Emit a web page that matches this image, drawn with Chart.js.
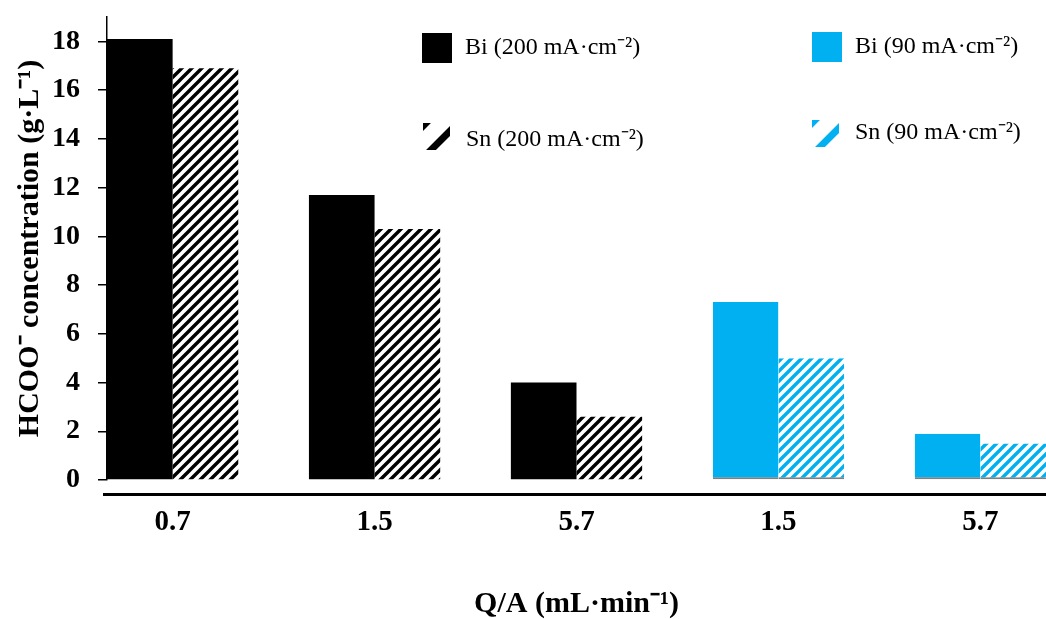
<!DOCTYPE html>
<html>
<head>
<meta charset="utf-8">
<script src="https://cdn.jsdelivr.net/npm/chart.js@4.4.1/dist/chart.umd.min.js"></script>
<style>
  body { margin: 0; background: #fff; }
</style>
</head>
<body>
<canvas id="chart-formate" width="1046" height="619"></canvas>
<script>
// Q/A flow values, in the order the groups appear
const qaLabels = ['0.7', '1.5', '5.7', '1.5', '5.7'];

// HCOO- concentration, g/L
const bi200 = [18.1, 11.7, 4.0, null, null];
const sn200 = [16.9, 10.3, 2.6, null, null];
const bi90 = [null, null, null, 7.3, 1.9];
const sn90 = [null, null, null, 5.0, 1.5];

const seriesNames = ['Bi (200 mA·cm⁻²)', 'Sn (200 mA·cm⁻²)', 'Bi (90 mA·cm⁻²)', 'Sn (90 mA·cm⁻²)'];

const BLUE = '#00B0F0';
const SERIF = "'Liberation Serif', 'Times New Roman', serif";

function hatch(color) {
    const s = 10;
    const c = document.createElement('canvas');
    c.width = c.height = s;
    const g = c.getContext('2d');
    g.fillStyle = '#fff';
    g.fillRect(0, 0, s, s);
    g.strokeStyle = color;
    g.lineWidth = 3.4;
    g.beginPath();
    g.moveTo(-1, s + 1); g.lineTo(s + 1, -1);
    g.moveTo(-s / 2 - 1, s / 2 + 1); g.lineTo(s / 2 + 1, -s / 2 - 1);
    g.moveTo(s / 2 - 1, s * 1.5 + 1); g.lineTo(s * 1.5 + 1, s / 2 - 1);
    g.stroke();
    return g.createPattern(c, 'repeat');
}

const toPoints = (vals) => vals.map((v, i) => ({ x: i, y: v }));

const greyBase = {
    borderColor: '#7f7f7f',
    borderWidth: { top: 0, right: 0, bottom: 2, left: 0 },
    borderSkipped: false
};

const datasets = [
    { label: seriesNames[0], data: toPoints(bi200), backgroundColor: '#000' },
    { label: seriesNames[1], data: toPoints(sn200), backgroundColor: hatch('#000'), swatch: '#000' },
    { label: seriesNames[2], data: toPoints(bi90), backgroundColor: BLUE, ...greyBase },
    { label: seriesNames[3], data: toPoints(sn90), backgroundColor: hatch(BLUE), swatch: BLUE, ...greyBase }
];

// thick rule under the bars + the 2x2 legend inside the plot
const extras = {
    id: 'extras',
    afterDraw(chart) {
        const { ctx, chartArea } = chart;
        ctx.save();
        ctx.fillStyle = '#000';
        ctx.fillRect(chartArea.left - 4, chartArea.bottom + 13, chartArea.right - chartArea.left + 4, 3);

        const spots = [[422, 33, 48], [423, 123, 140], [812, 32, 47], [812, 120, 133]];
        chart.data.datasets.forEach((ds, i) => {
            const [x, y, ty] = spots[i];
            if (ds.swatch) {
                ctx.save();
                ctx.beginPath();
                ctx.rect(x, y, 27, 27);
                ctx.clip();
                ctx.strokeStyle = ds.swatch;
                ctx.lineWidth = 7;
                ctx.beginPath();
                ctx.moveTo(x - 4, y + 7); ctx.lineTo(x + 7, y - 4);
                ctx.moveTo(x + 2, y + 33); ctx.lineTo(x + 33, y + 2);
                ctx.stroke();
                ctx.restore();
            } else {
                ctx.fillStyle = ds.backgroundColor;
                ctx.fillRect(x, y, 30, 30);
            }
            ctx.fillStyle = '#000';
            ctx.font = `24px ${SERIF}`;
            ctx.textBaseline = 'middle';
            ctx.fillText(ds.label, x + 43, ty);
        });
        ctx.restore();
    }
};

new Chart(document.getElementById('chart-formate'), {
    type: 'bar',
    data: { datasets },
    plugins: [extras],
    options: {
        responsive: false,
        animation: false,
        devicePixelRatio: 1,
        layout: { padding: { top: 17, right: 0, bottom: 0, left: 0 } },
        datasets: {
            bar: { categoryPercentage: 0.65, barPercentage: 1, skipNull: true }
        },
        plugins: {
            legend: { display: false },
            tooltip: { enabled: false }
        },
        scales: {
            x: {
                type: 'linear',
                min: -0.325,
                max: 4.325,
                offset: false,
                grid: { display: false, drawTicks: false, offset: false },
                border: { display: false },
                ticks: {
                    stepSize: 1,
                    includeBounds: false,
                    autoSkip: false,
                    maxRotation: 0,
                    padding: 25,
                    color: '#000',
                    font: { family: SERIF, size: 29, weight: 'bold' },
                    callback: (v) => qaLabels[v] ?? ''
                },
                title: {
                    display: true,
                    text: 'Q/A (mL·min⁻¹)',
                    color: '#000',
                    font: { family: SERIF, size: 30, weight: 'bold', lineHeight: 1 },
                    padding: { top: 0, bottom: 0 }
                },
                afterFit: (s) => { s.height = 139; }
            },
            y: {
                min: 0,
                max: 19,
                grid: { drawOnChartArea: false, tickLength: 9, color: '#000', lineWidth: 1.5 },
                border: { color: '#000', width: 1.5 },
                ticks: {
                    stepSize: 2,
                    includeBounds: false,
                    padding: 18,
                    color: '#000',
                    font: { family: SERIF, size: 28, weight: 'bold' }
                },
                title: {
                    display: true,
                    text: 'HCOO⁻ concentration (g·L⁻¹)',
                    color: '#000',
                    font: { family: SERIF, size: 30, weight: 'bold', lineHeight: 1 },
                    padding: { top: 15, bottom: 0 }
                },
                afterFit: (s) => {
                    s.width = 107;
                    s.paddingTop = 0;
                    s.paddingBottom = 0;
                }
            }
        }
    }
});
</script>
</body>
</html>
